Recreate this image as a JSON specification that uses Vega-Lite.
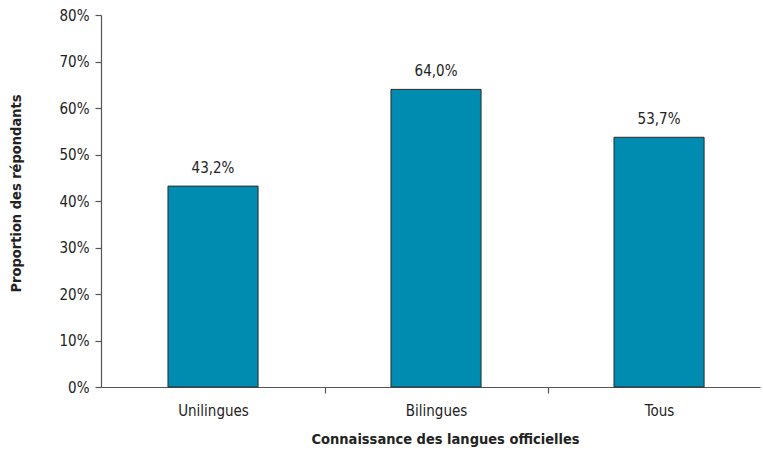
{
  "$schema": "https://vega.github.io/schema/vega-lite/v6.json",
  "autosize": {"type": "none"},
  "width": 659,
  "height": 372,
  "padding": {"left": 101, "top": 15, "right": 3, "bottom": 67},
  "background": "white",
  "config": {
    "view": {"stroke": null},
    "font": "DejaVu Sans Condensed",
    "locale": {"number": {"decimal": ",", "thousands": " ", "grouping": [3], "currency": ["", " $"]}}
  },
  "data": {"values": [
    {"groupe": "Unilingues", "proportion": 0.432},
    {"groupe": "Bilingues", "proportion": 0.640},
    {"groupe": "Tous", "proportion": 0.537}
  ]},
  "encoding": {
    "x": {
      "field": "groupe", "type": "nominal", "sort": null,
      "scale": {"paddingInner": 0.596, "paddingOuter": 0.2755, "align": 0.545},
      "axis": {
        "title": "Connaissance des langues officielles",
        "labelAngle": 0, "labelFontSize": 15, "labelColor": "#222", "labelPadding": 10,
        "titleFontSize": 14.5, "titleFontWeight": "bold", "titleColor": "#222", "titlePadding": 14, "titleX": 344,
        "ticks": true, "tickOffset": 111.5, "labelOffset": -111.5, "tickSize": 6, "tickWidth": 1.2, "tickColor": "#555", "domainColor": "#555", "domainWidth": 1.2
      }
    },
    "y": {
      "field": "proportion", "type": "quantitative",
      "scale": {"domain": [0, 0.8]},
      "axis": {
        "title": "Proportion des répondants", "format": ".0%", "values": [0,0.1,0.2,0.3,0.4,0.5,0.6,0.7,0.8],
        "labelOverlap": false, "grid": false, "labelFontSize": 15, "labelColor": "#222", "labelPadding": 6,
        "titleFontSize": 14.5, "titleFontWeight": "bold", "titleColor": "#222", "titlePadding": 36, "titleY": 178,
        "tickSize": 6, "tickWidth": 1.2, "tickColor": "#555", "domainColor": "#555", "domainWidth": 1.2
      }
    }
  },
  "layer": [
    {"mark": {"type": "bar", "color": "#008BB0", "stroke": "#2b2b2b", "strokeWidth": 1}},
    {"mark": {"type": "text", "baseline": "bottom", "dy": -10, "fontSize": 15, "color": "#222"},
     "encoding": {"text": {"field": "proportion", "type": "quantitative", "format": ".1%"}}}
  ]
}
